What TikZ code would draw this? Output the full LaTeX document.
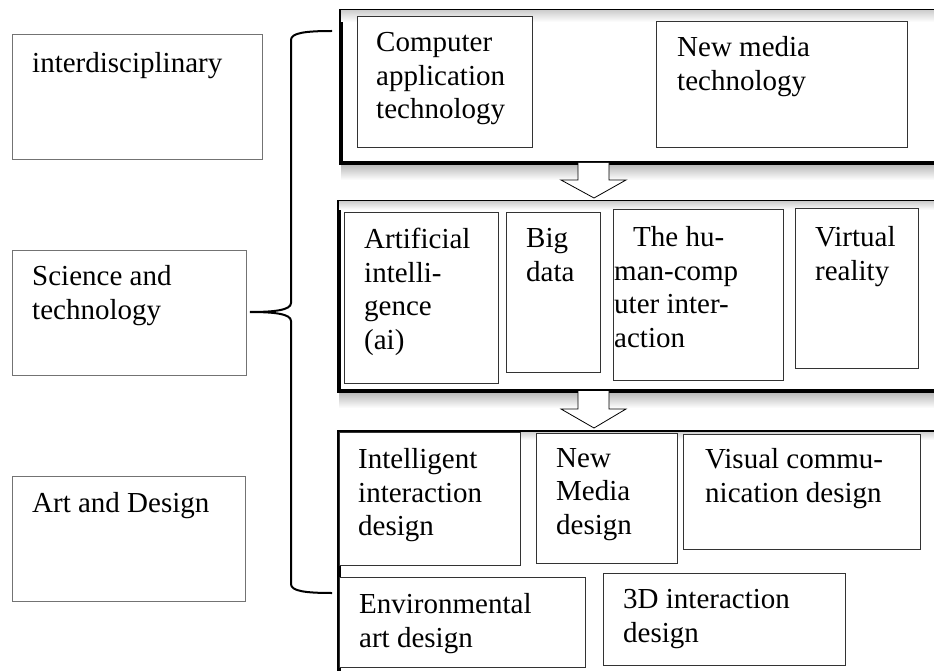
\documentclass[tikz,border=0pt]{standalone}
\usepackage{fontspec}
\setmainfont{Liberation Serif}
\usetikzlibrary{calc}
\begin{document}
\begin{tikzpicture}[x=1pt,y=-1pt,
  lbox/.style={draw=black!55, line width=1pt, inner sep=0pt, anchor=north west},
  ibox/.style={draw=black!80, line width=0.9pt, fill=white, inner sep=0pt, anchor=north west},
  gbox/.style={draw=black, line width=4pt, fill=white, inner sep=0pt, anchor=north west},
  txt/.style={anchor=north west, inner sep=0pt, align=left, font=\fontsize{29}{33.5}\selectfont, execute at begin node=\vphantom{l}},
  blockarrow/.style={draw=black, line width=0.8pt, line join=miter},
  bracepath/.style={draw=black, line width=2pt},
]
\useasboundingbox (0,0) rectangle (934,671);
\clip (0,0) rectangle (934,671);

% left category boxes
\node[lbox, minimum width=250, minimum height=125] (L1) at (12,34) {};
\node[lbox, minimum width=234, minimum height=125] (L2) at (12,250) {};
\node[lbox, minimum width=233, minimum height=125] (L3) at (12,476) {};
\node[txt] (L1t) at (32,52.2) {interdisciplinary};
\node[txt] (L2t) at (32,265.2) {Science and\\technology};
\node[txt] (L3t) at (32,492.2) {Art and Design};

% shadows of group boxes
\shade[top color=black!30, bottom color=white] (341,163) rectangle (1000,180);
\shade[top color=black!30, bottom color=white] (339,391) rectangle (1000,408);

% group boxes
\node[gbox, minimum width=661, minimum height=152] (G1) at (339,9) {};
\node[gbox, minimum width=663, minimum height=189] (G2) at (337,200) {};
\node[gbox, minimum width=663, minimum height=330] (G3) at (337,430) {};

% inner light shading
\shade[top color=black!18, bottom color=white] (341,11) rectangle (1000,22);
\shade[top color=black!18, bottom color=white] (339,202) rectangle (1000,210);
\shade[top color=black!18, bottom color=white] (339,432) rectangle (1000,440);

% top group
\node[ibox, minimum width=175, minimum height=131] (T1) at (357,16) {};
\node[ibox, minimum width=251, minimum height=126] (T2) at (656,21) {};
\node[txt] (T1t) at (376,32.2) {Computer\\application\\technology};
\node[txt] (T2t) at (677,36.2) {New media\\technology};

% middle group
\node[ibox, minimum width=154, minimum height=171] (M1) at (344,212) {};
\node[ibox, minimum width=94, minimum height=160] (M2) at (506,212) {};
\node[ibox, minimum width=170, minimum height=171] (M3) at (613,209) {};
\node[ibox, minimum width=123, minimum height=160] (M4) at (795,208) {};
\node[txt] (M1t) at (364,228.2) {Artificial\\intelli-\\gence\\(ai)};
\node[txt] (M2t) at (526,228.2) {Big\\data};
\node[txt] (M3t) at (614,226.2) {\hspace*{19pt}The hu-\\man-comp\\uter inter-\\action};
\node[txt] (M4t) at (815,226.2) {Virtual\\reality};

% bottom group
\node[ibox, minimum width=181, minimum height=133] (B1) at (339,432) {};
\node[ibox, minimum width=141, minimum height=130] (B2) at (536,433) {};
\node[ibox, minimum width=237, minimum height=115] (B3) at (683,434) {};
\node[ibox, minimum width=246, minimum height=90] (B4) at (339,577) {};
\node[ibox, minimum width=242, minimum height=92] (B5) at (603,573) {};
\node[txt] (B1t) at (358,448.2) {Intelligent\\interaction\\design};
\node[txt] (B2t) at (556,448.2) {New\\Media\\design};
\node[txt] (B3t) at (705,448.2) {Visual commu-\\nication design};
\node[txt] (B4t) at (359,593.2) {Environmental\\art design};
\node[txt] (B5t) at (623,589.2) {3D interaction\\design};

% block arrows between groups
\fill[white] (578,163) -- (578,180) -- (561,180) -- (594,198) -- (626,180) -- (609,180) -- (609,163) -- cycle;
\draw[blockarrow] (578,163) -- (578,180) -- (561,180) -- (594,198) -- (626,180) -- (609,180) -- (609,163);
\fill[white] (578,391) -- (578,409) -- (561,409) -- (594,428) -- (626,409) -- (609,409) -- (609,391) -- cycle;
\draw[blockarrow] (578,391) -- (578,409) -- (561,409) -- (594,428) -- (626,409) -- (609,409) -- (609,391);

% brace
\coordinate (brtop) at (332,31);
\coordinate (brtip) at (250,312);
\coordinate (brbot) at (332,593);
\draw[bracepath] (brtop) .. controls (305,31) and (291,33) .. (291,40)
  -- (291,303) .. controls (291,310) and (275,312) .. (brtip)
  .. controls (275,312) and (291,314) .. (291,321)
  -- (291,584) .. controls (291,591) and (305,593) .. (brbot);
\end{tikzpicture}
\end{document}
